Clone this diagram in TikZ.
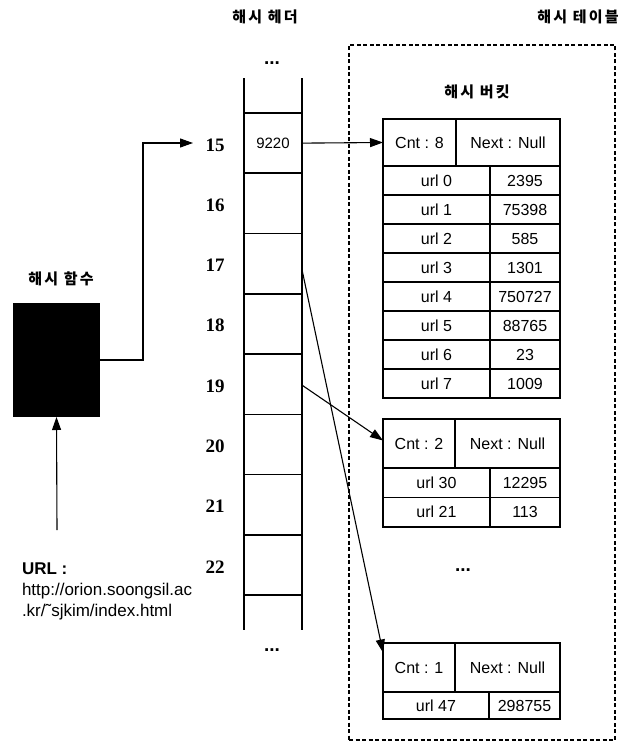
\documentclass[tikz,border=0pt]{standalone}
\usepackage{fontspec}
\setmainfont{Liberation Sans}
\newfontfamily\numfont{Liberation Serif}
\newfontfamily\kr{Noto Sans CJK KR}[LetterSpace=15]
\usetikzlibrary{arrows.meta}
\begin{document}
\begin{tikzpicture}[x=1pt,y=-1pt,
  every node/.style={inner sep=0pt,outer sep=0pt},
  tcell/.style={draw,line width=1.2pt,anchor=north west,font=\fontsize{16}{16}\selectfont},
  hcell/.style={draw,line width=1.5pt,minimum width=58pt,minimum height=60.25pt},
  numlab/.style={font=\numfont\bfseries\fontsize{19}{19}\selectfont},
  krlab/.style={font=\kr\bfseries\fontsize{15}{15}\selectfont},
  arr/.style={line width=1.1pt,-{Triangle[length=13pt,width=9pt]}},
  dots/.style={font=\bfseries\fontsize{19}{19}\selectfont,anchor=base},
  urltext/.style={anchor=west,font=\fontsize{17}{17}\selectfont}]
\useasboundingbox (0,0) rectangle (625,746);

% titles
\node[krlab] (tHeader) at (265,17) {해시 헤더};
\node[krlab] (tTable) at (578,17) {해시 테이블};
\node[krlab] (tBucket) at (477,92) {해시 버킷};
\node[krlab] (tFunc) at (61,279) {해시 함수};

% hash table dashed frame
\node[draw,dash pattern=on 4pt off 2.5pt,line width=1.1pt,anchor=north west,
      minimum width=266pt,minimum height=695pt] (table) at (349,45) {};

% header column
\foreach \n [count=\i from 0] in {15,...,22} {
  \node[hcell] (hc\n) at (273,{143.125+60.25*\i}) {};
  \node[numlab] (lab\n) at (215,{145+60.25*\i}) {\n};
}
\draw[line width=1.5pt] (hc15.north west) -- ++(0,-35);
\draw[line width=1.5pt] (hc15.north east) -- ++(0,-35);
\draw[line width=1.5pt] (hc22.south west) -- ++(0,35);
\draw[line width=1.5pt] (hc22.south east) -- ++(0,35);
\node[font=\fontsize{15}{15}\selectfont] (v9220) at (hc15) {9220};
\node[dots] (dTop) at (272,65) {...};
\node[dots] (dBot) at (272,651) {...};

% bucket 1
\node[tcell,minimum width=73pt,minimum height=47pt] (b1cnt) at (383,119) {Cnt : 8};
\node[tcell,minimum width=104pt,minimum height=47pt] (b1next) at (456,119) {Next : Null};
\foreach \u/\v [count=\i from 0] in {0/2395,1/75398,2/585,3/1301,4/750727,5/88765,6/23,7/1009} {
  \node[tcell,minimum width=107pt,minimum height=29pt] (b1u\i) at (383,{166+29*\i}) {url \u};
  \node[tcell,minimum width=70pt,minimum height=29pt] (b1v\i) at (490,{166+29*\i}) {\v};
}

% bucket 2
\node[tcell,minimum width=72pt,minimum height=49pt] (b2cnt) at (383,419) {Cnt : 2};
\node[tcell,minimum width=105pt,minimum height=49pt] (b2next) at (455,419) {Next : Null};
\foreach \u/\v [count=\i from 0] in {30/12295,21/113} {
  \node[tcell,minimum width=107pt,minimum height=29.5pt] (b2u\i) at (383,{468+29.5*\i}) {url \u};
  \node[tcell,minimum width=70pt,minimum height=29.5pt] (b2v\i) at (490,{468+29.5*\i}) {\v};
}
\node[dots] (dMid) at (463,571) {...};

% bucket 3
\node[tcell,minimum width=72pt,minimum height=49pt] (b3cnt) at (383,643) {Cnt : 1};
\node[tcell,minimum width=105pt,minimum height=49pt] (b3next) at (455,643) {Next : Null};
\node[tcell,minimum width=106pt,minimum height=27pt] (b3u0) at (383,692) {url 47};
\node[tcell,minimum width=71pt,minimum height=27pt] (b3v0) at (489,692) {298755};

% hash function
\node[fill=black,minimum width=87pt,minimum height=114pt] (hfunc) at (56.5,360) {};

% URL
\node[urltext,font=\bfseries\fontsize{17}{17}\selectfont] (url1) at (22,569) {URL :};
\node[urltext] (url2) at (22,591) {http://orion.soongsil.ac};
\node[urltext] (url3) at (22,612) {.kr/˜sjkim/index.html};
\coordinate (urlsrc) at (57,530);
\draw[arr] (urlsrc) -- (hfunc.south);

% connectors
\coordinate (in15) at (193,143);
\draw[arr] (hfunc.east) -- ++(43,0) |- (in15);
\draw[arr] (hc15.east) -- (b1cnt.west);
\draw[arr] ([yshift=-6pt]hc17.east) -- ([yshift=15pt]b3cnt.west);
\draw[arr] ([yshift=-1pt]hc19.east) -- ([yshift=3pt]b2cnt.west);
\end{tikzpicture}
\end{document}
